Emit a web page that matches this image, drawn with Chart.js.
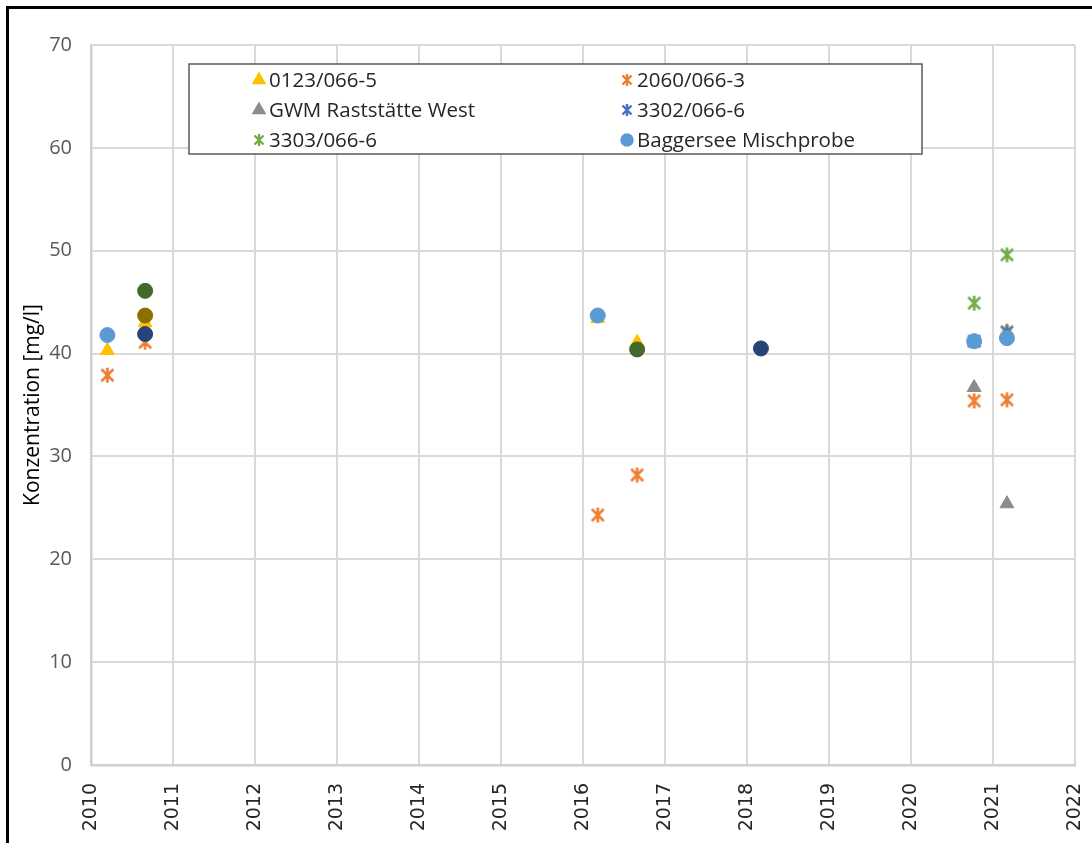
<!DOCTYPE html>
<html>
<head>
<meta charset="utf-8">
<script src="https://cdn.jsdelivr.net/npm/chart.js@4.4.1/dist/chart.umd.min.js"></script>
<style>
    html, body { margin: 0; padding: 0; background: #fff; }
    #wrap { position: relative; width: 1092px; height: 843px; }
    #frame { position: absolute; left: 6px; top: 6px; right: 0; bottom: 0; border-left: 3px solid #000; border-top: 3px solid #000; pointer-events: none; }
</style>
</head>
<body>
<div id="wrap">
    <canvas id="conc-chart" width="1092" height="843"></canvas>
    <div id="frame"></div>
</div>
<script>
// Messwerte je Messstelle (Jahr als Dezimalzahl, Konzentration in mg/l)
const names = [
    "0123/066-5", "2060/066-3", "GWM Raststätte West", "3302/066-6",
    "3303/066-6", "Baggersee Mischprobe", "Serie 7", "Serie 8", "Serie 9"
]
const x0123 = [2010.2, 2010.66, 2016.18, 2016.66, 2020.77, 2021.17]
const y0123 = [40.3, 43.0, 43.4, 41.1, 41.1, 42.2]
const x2060 = [2010.2, 2010.66, 2016.18, 2016.66, 2020.77, 2021.17]
const y2060 = [37.9, 41.1, 24.3, 28.2, 35.4, 35.5]
const xGwm = [2020.77, 2021.17]
const yGwm = [36.7, 25.4]
const x3302 = [2020.77, 2021.17]
const y3302 = [41.2, 42.1]
const x3303 = [2020.77, 2021.17]
const y3303 = [44.9, 49.6]
const xBagger = [2010.2, 2016.18, 2020.77, 2021.17]
const yBagger = [41.8, 43.7, 41.2, 41.5]
const xDunkelgruen = [2010.66, 2016.66]
const yDunkelgruen = [46.1, 40.4]
const xOliv = [2010.66]
const yOliv = [43.7]
const xNavy = [2010.66, 2018.17]
const yNavy = [41.9, 40.5]

const years = [2010, 2011, 2012, 2013, 2014, 2015, 2016, 2017, 2018, 2019, 2020, 2021, 2022]

const FONT = '"Open Sans", Lato, sans-serif'

function asterisk(color, size, lw) {
    const c = document.createElement('canvas');
    c.width = size; c.height = size;
    const g = c.getContext('2d');
    g.strokeStyle = color;
    g.lineWidth = lw;
    const m = 2.5, s = size - 2.5;
    g.beginPath();
    g.moveTo(m, m); g.lineTo(s, s);
    g.moveTo(s, m); g.lineTo(m, s);
    g.moveTo(size / 2, 1); g.lineTo(size / 2, size - 1);
    g.stroke();
    return c;
}

function pts(xs, ys) {
    return xs.map((x, i) => ({ x: x, y: ys[i] }));
}

const styles = [
    { color: '#FFC000', style: 'triangle', r: 8 },
    { color: '#ED7D31', style: asterisk('#ED7D31', 17, 2.6), small: asterisk('#ED7D31', 14, 2.4) },
    { color: '#8C8C8C', style: 'triangle', r: 8 },
    { color: '#4472C4', style: asterisk('#4472C4', 17, 2.6), small: asterisk('#4472C4', 14, 2.4) },
    { color: '#70AD47', style: asterisk('#70AD47', 17, 2.6), small: asterisk('#70AD47', 14, 2.4) },
    { color: '#5B9BD5', style: 'circle', r: 7.5 },
    { color: '#43682B', style: 'circle', r: 7.5 },
    { color: '#8B7000', style: 'circle', r: 7.5 },
    { color: '#264478', style: 'circle', r: 7.5 }
]

const values = [
    pts(x0123, y0123), pts(x2060, y2060), pts(xGwm, yGwm), pts(x3302, y3302),
    pts(x3303, y3303), pts(xBagger, yBagger), pts(xDunkelgruen, yDunkelgruen),
    pts(xOliv, yOliv), pts(xNavy, yNavy)
]

const legendCount = 6

const boxLegend = {
    id: 'boxLegend',
    afterDatasetsDraw(chart) {
        const ctx = chart.ctx;
        const a = chart.chartArea;
        const bx = a.left + 98, by = a.top + 19, bw = 733, bh = 90;
        ctx.save();
        ctx.fillStyle = '#fff';
        ctx.fillRect(bx, by, bw, bh);
        ctx.strokeStyle = '#595959';
        ctx.lineWidth = 1.5;
        ctx.strokeRect(bx, by, bw, bh);
        ctx.font = '20.5px ' + FONT;
        ctx.textBaseline = 'middle';
        for (let i = 0; i < legendCount; i++) {
            const col = i % 2, row = Math.floor(i / 2);
            const mx = bx + 70 + col * 368;
            const my = by + 16 + row * 30;
            const st = styles[i];
            ctx.fillStyle = st.color;
            ctx.strokeStyle = st.color;
            Chart.helpers.drawPoint(ctx, {
                pointStyle: st.small || st.style,
                rotation: 0,
                radius: st.style === 'circle' ? 6 : 7,
                borderWidth: 1
            }, mx, my);
            ctx.fillStyle = '#262626';
            ctx.fillText(names[i], mx + 10, my + 1);
        }
        ctx.restore();
    }
}

const datasets = values.map((d, i) => ({
    label: names[i],
    data: d,
    pointStyle: styles[i].style,
    pointRadius: styles[i].r || 7.5,
    pointHoverRadius: styles[i].r || 7.5,
    backgroundColor: styles[i].color,
    borderColor: styles[i].color,
    pointBorderWidth: 1,
    order: values.length - i,
    showLine: false
}));

new Chart(document.getElementById('conc-chart'), {
    type: 'scatter',
    data: { datasets: datasets },
    options: {
        responsive: false,
        animation: false,
        layout: { padding: { left: 20, top: 45, right: 17, bottom: 0 } },
        plugins: {
            legend: { display: false },
            tooltip: { enabled: false }
        },
        scales: {
            x: {
                type: 'linear',
                min: years[0],
                max: years[years.length - 1],
                afterBuildTicks: (axis) => { axis.ticks = years.map(v => ({ value: v })); },
                afterFit: (axis) => {
                    axis.height = 78;
                    axis.paddingLeft = 0;
                    axis.paddingRight = 0;
                },
                grid: { color: '#d9d9d9', lineWidth: 2, drawTicks: false },
                border: { color: '#d0d0d0', width: 2.5 },
                ticks: {
                    minRotation: 90,
                    maxRotation: 90,
                    padding: 18,
                    color: '#262626',
                    font: { family: 'DejaVu Sans', size: 19 },
                    callback: (v) => String(v)
                }
            },
            y: {
                min: 0,
                max: 70,
                afterFit: (axis) => {
                    axis.width = 71;
                    axis.paddingTop = 0;
                    axis.paddingBottom = 0;
                },
                grid: { color: '#d9d9d9', lineWidth: 2, drawTicks: false },
                border: { color: '#d0d0d0', width: 2.5 },
                ticks: {
                    stepSize: 10,
                    padding: 19,
                    color: '#595959',
                    font: { family: FONT, size: 20 }
                },
                title: {
                    display: true,
                    text: 'Konzentration [mg/l]',
                    color: '#000',
                    font: { family: FONT, size: 21 },
                    padding: 0
                }
            }
        }
    },
    plugins: [boxLegend]
});
</script>
</body>
</html>
